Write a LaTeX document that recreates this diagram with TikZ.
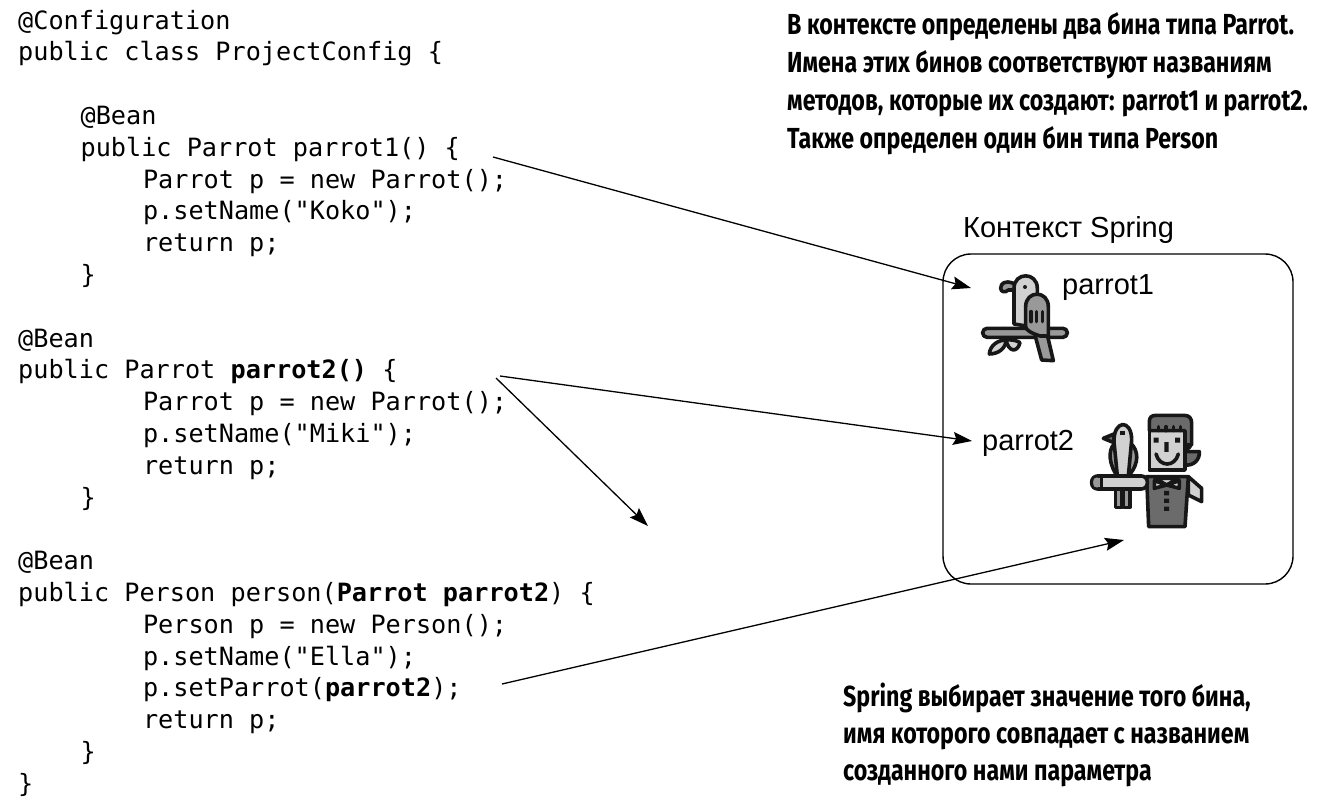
\documentclass[tikz,border=0pt]{standalone}
\usepackage{fontspec}
\setmainfont{Liberation Sans}
\setmonofont{DejaVu Sans Mono}
\newfontfamily\notefont[FakeStretch=0.8]{Fira Sans Bold}
\usetikzlibrary{arrows.meta}
\definecolor{iconDark}{gray}{0.09}
\definecolor{iconLight}{gray}{0.82}
\definecolor{iconMid}{gray}{0.6}
\definecolor{iconDeep}{gray}{0.42}
\tikzstyle{codeline} = [anchor=base west, inner sep=0pt, font=\fontsize{25.2pt}{30pt}\ttfamily]
\tikzstyle{note} = [anchor=north west, inner sep=0pt, align=left, font=\fontsize{29pt}{38pt}\notefont]
\tikzstyle{label} = [anchor=base west, inner sep=0pt, font=\fontsize{29pt}{32pt}\selectfont]
\tikzstyle{arrow} = [line width=1.3pt, -{Stealth[length=19pt, width=13pt, inset=3pt]}]
\tikzstyle{contextbox} = [draw=black, line width=1.4pt, rounded corners=28pt, minimum width=350pt, minimum height=330pt, inner sep=0pt]
\tikzstyle{icon} = [draw=iconDark, line width=3.6pt, line join=round, line cap=round]

\begin{document}
\begin{tikzpicture}[x=1pt, y=-1pt]
    \useasboundingbox (0,0) rectangle (1322,811);

    % code on the left
    \foreach \row/\col/\txt in {
        0/0/{@Configuration},
        1/0/{public class ProjectConfig \{},
        3/4/{@Bean},
        4/4/{public Parrot parrot1() \{},
        5/8/{Parrot p = new Parrot();},
        6/8/{p.setName("Koko");},
        7/8/{return p;},
        8/4/{\}},
        10/0/{@Bean},
        11/0/{public Parrot \textbf{parrot2()} \{},
        12/8/{Parrot p = new Parrot();},
        13/8/{p.setName("Miki");},
        14/8/{return p;},
        15/4/{\}},
        17/0/{@Bean},
        18/0/{public Person person(\textbf{Parrot parrot2}) \{},
        19/8/{Person p = new Person();},
        20/8/{p.setName("Ella");},
        21/8/{p.setParrot(\textbf{parrot2});},
        22/8/{return p;},
        23/4/{\}},
        24/0/{\}}}
        \node (code\row) [codeline] at (18+15.6*\col, 29+31.8*\row) {\txt};

    % notes
    \node (topNote) [note] at (787,12) {В контексте определены два бина типа Parrot.\\Имена этих бинов соответствуют названиям\\методов, которые их создают: parrot1 и parrot2.\\Также определен один бин типа Person};
    \node (bottomNote) [note, font=\fontsize{29pt}{36.7pt}\notefont] at (843,683) {Spring выбирает значение того бина,\\имя которого совпадает с названием\\созданного нами параметра};

    % context
    \node (contextTitle) [label] at (963,237) {Контекст Spring};
    \node (context) [contextbox] at (1118,419) {};
    \node (parrot1Label) [label] at (1062,294) {parrot1};
    \node (parrot2Label) [label] at (982,450) {parrot2};

    % parrot in the first bean
    \begin{scope}[shift={(930,200)}, x=0.3333pt, y=-0.3333pt]
        \filldraw[icon, fill=iconLight] (228,420) .. controls (205,420) and (180,435) .. (178,462) .. controls (205,462) and (228,445) .. (228,420) -- cycle;
        \filldraw[icon, fill=iconLight] (228,420) .. controls (245,418) and (262,422) .. (270,428) .. controls (262,460) and (235,456) .. (228,420) -- cycle;
        \filldraw[icon, fill=iconMid, rounded corners=4.4pt] (158,385) rectangle (412,412);
        \filldraw[icon, fill=iconMid] (315,405) -- (335,480) -- (370,482) -- (352,405) -- cycle;
        \filldraw[icon, fill=iconMid] (250,250) .. controls (225,240) and (212,250) .. (212,265) .. controls (212,275) and (225,280) .. (235,270) -- (250,270);
        \filldraw[icon, fill=iconLight] (252,372) -- (252,265) .. controls (252,215) and (322,215) .. (322,265) -- (322,300) -- (300,380) -- cycle;
        \filldraw[icon, fill=iconMid] (287,380) -- (287,320) .. controls (287,270) and (355,270) .. (355,320) -- (355,408) -- (330,408) .. controls (305,400) and (287,390) .. (287,380) -- cycle;
        \draw[icon] (303,365) -- (303,335) (320,365) -- (320,335) (337,365) -- (337,335);
        \fill[iconDark] (285,261) circle (6);
        \fill[iconDark] (222,385) circle (5);
    \end{scope}

    % person with parrot on the arm
    \begin{scope}[shift={(1060,390)}, x=0.3333pt, y=-0.3333pt]
        \filldraw[icon, fill=iconDeep] (375,185) -- (418,185) .. controls (420,210) and (400,228) .. (375,225) -- cycle;
        \filldraw[icon, fill=iconMid] (375,160) circle (18);
        \filldraw[icon, fill=iconLight] (268,120) rectangle (375,240);
        \filldraw[icon, fill=iconDeep] (268,122) -- (268,95) .. controls (268,82) and (275,76) .. (288,76) -- (372,76) .. controls (388,76) and (395,85) .. (395,100) -- (395,165) -- (375,165) -- (375,122) -- cycle;
        \draw[icon] (295,110) -- (295,122) (318,110) -- (318,122) (341,110) -- (341,122) (362,110) -- (362,122);
        \fill[iconDark] (281,143) rectangle (296,158) (345,143) rectangle (360,158) (313,156) rectangle (326,186);
        \draw[icon] (288,192) .. controls (298,232) and (345,232) .. (355,192);
        \filldraw[icon, fill=iconLight] (385,260) -- (425,295) -- (425,335) -- (385,315) -- cycle;
        \filldraw[icon, fill=iconDeep] (260,260) -- (385,260) -- (375,410) -- (266,410) -- cycle;
        \filldraw[icon, fill=iconLight] (285,265) -- (320,285) -- (355,265) -- cycle;
        \filldraw[icon, fill=iconLight] (320,285) -- (283,272) -- (283,295) -- cycle (320,285) -- (358,272) -- (358,295) -- cycle;
        \fill[iconDark] (312,303) rectangle (327,316) (312,326) rectangle (327,339) (312,350) rectangle (327,363);
        \filldraw[icon, fill=iconMid] (166,295) rectangle (186,352) (190,295) rectangle (210,352);
        \filldraw[icon, fill=iconLight, rounded corners=6pt] (95,258) -- (262,258) -- (262,297) -- (95,297) -- cycle;
        \fill[iconMid, rounded corners=3pt] (100,263) rectangle (122,292);
        \draw[icon] (125,260) -- (125,295);
        \filldraw[icon, fill=iconMid] (165,160) .. controls (140,180) and (150,230) .. (172,258) -- (205,258) .. controls (240,220) and (235,180) .. (212,160) -- cycle;
        \filldraw[icon, fill=iconLight] (162,155) .. controls (160,90) and (215,85) .. (215,150) -- (205,258) -- (172,258) -- cycle;
        \filldraw[icon, fill=iconDeep] (162,132) -- (130,145) -- (162,158) -- cycle;
        \fill[iconDark] (180,123) rectangle (196,135);
    \end{scope}

    % connectors
    \coordinate (parrot1From) at (493,157);
    \coordinate (parrot1To) at (971,288);
    \coordinate (parrot2From) at (500,376);
    \coordinate (parrot2To) at (972,441);
    \coordinate (emptyFrom) at (496,378);
    \coordinate (emptyTo) at (648,526);
    \coordinate (personFrom) at (502,684);
    \coordinate (personTo) at (1124,540);

    \draw[arrow] (parrot1From) -- (parrot1To);
    \draw[arrow] (parrot2From) -- (parrot2To);
    \draw[arrow] (emptyFrom) -- (emptyTo);
    \draw[arrow] (personFrom) -- (personTo);

\end{tikzpicture}
\end{document}
